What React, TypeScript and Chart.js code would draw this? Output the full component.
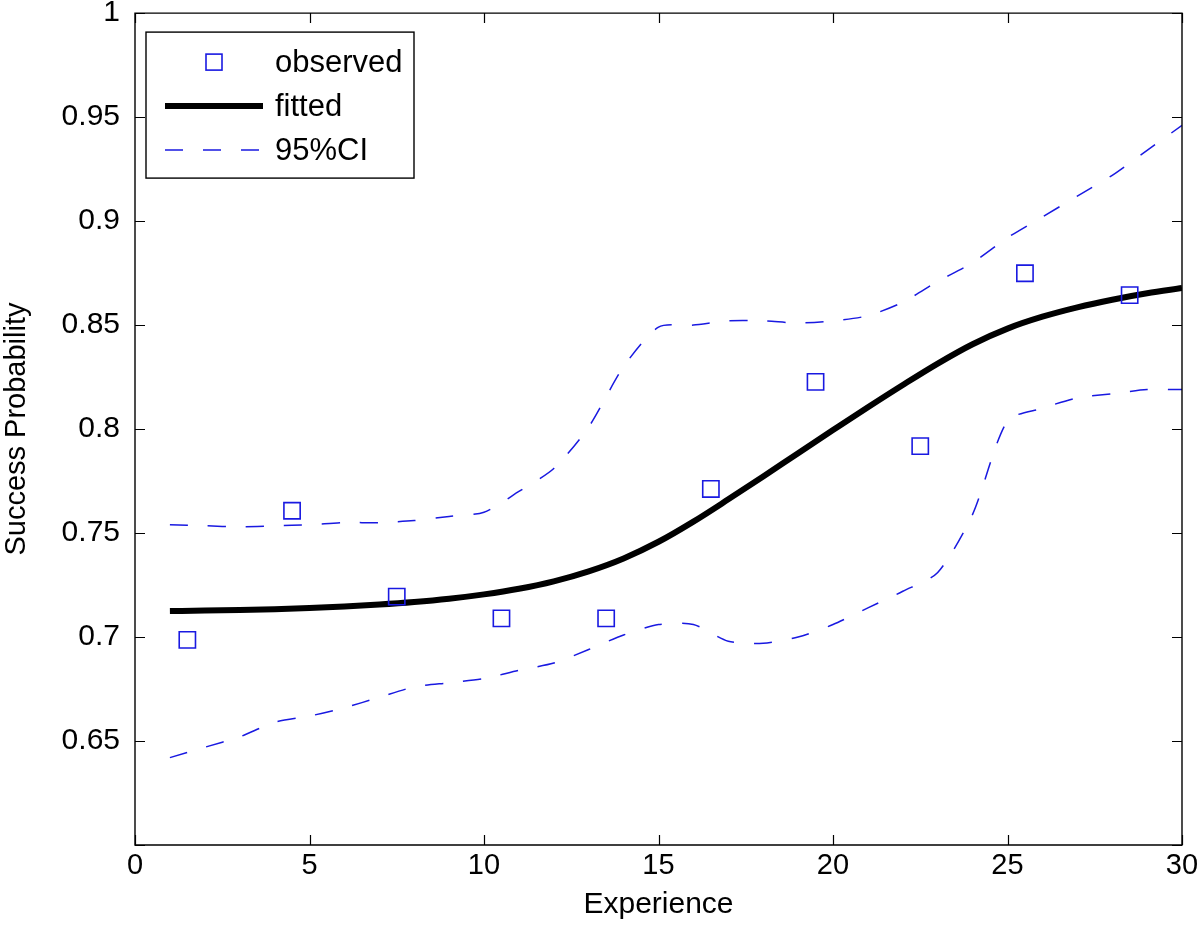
import React, { useEffect, useRef } from 'react';
import { Chart, registerables } from 'chart.js';

Chart.register(...registerables);

// ---- data ----
const experience = [1, 2, 3, 4, 5, 6, 7, 8, 9, 10, 11, 12, 13, 14, 15, 16, 17, 18, 19, 20, 21, 22, 23, 24, 25, 26, 27, 28, 29, 30];
const fitted = [0.7125, 0.7127, 0.713, 0.7134, 0.714, 0.7147, 0.7156, 0.7168, 0.7184, 0.7205, 0.7232, 0.7268, 0.7316, 0.7378, 0.7458, 0.7555, 0.7662, 0.7772, 0.7884, 0.7995, 0.8105, 0.8212, 0.8315, 0.8408, 0.8483, 0.854, 0.8585, 0.8622, 0.8653, 0.8678];
const ciUpper = [0.754, 0.7535, 0.753, 0.7535, 0.754, 0.755, 0.755, 0.756, 0.758, 0.76, 0.77, 0.781, 0.801, 0.83, 0.849, 0.85, 0.852, 0.852, 0.851, 0.852, 0.8545, 0.861, 0.871, 0.88, 0.892, 0.902, 0.912, 0.922, 0.934, 0.946];
const ciLower = [0.642, 0.647, 0.652, 0.659, 0.662, 0.666, 0.671, 0.676, 0.678, 0.68, 0.684, 0.6875, 0.694, 0.701, 0.706, 0.706, 0.698, 0.697, 0.7, 0.706, 0.714, 0.722, 0.731, 0.759, 0.804, 0.81, 0.815, 0.817, 0.819, 0.819];
const observedX = [1.5, 4.5, 7.5, 10.5, 13.5, 16.5, 19.5, 22.5, 25.5, 28.5];
const observedY = [0.6986, 0.7607, 0.7194, 0.709, 0.709, 0.7712, 0.8227, 0.7918, 0.8749, 0.8644];
const xTickValues = [0, 5, 10, 15, 20, 25, 30];
const xTickLabels = ['0', '5', '10', '15', '20', '25', '30'];
const yTickValues = [0.6, 0.65, 0.7, 0.75, 0.8, 0.85, 0.9, 0.95, 1];
const yTickLabels = ['', '0.65', '0.7', '0.75', '0.8', '0.85', '0.9', '0.95', '1'];
const legendLabels = ['observed', 'fitted', '95%CI'];

const BLUE = 'rgb(25,25,225)';
const FONT = "'Liberation Sans', Arial, Helvetica, sans-serif";

const framePlugin = {
  id: 'matlabFrame',
  afterDatasetsDraw(chart: any) {
    const { ctx, chartArea } = chart;
    const { left, right, top, bottom } = chartArea;
    const xs = chart.scales.x;
    const ys = chart.scales.y;
    const tl = 10;
    ctx.save();
    ctx.strokeStyle = '#000';
    ctx.lineWidth = 1.4;
    ctx.beginPath();
    ctx.rect(left, top, right - left, bottom - top);
    ctx.stroke();
    ctx.lineWidth = 1.2;
    ctx.beginPath();
    xs.ticks.forEach((t: any) => {
      const px = Math.round(xs.getPixelForValue(t.value)) + 0.5;
      ctx.moveTo(px, bottom);
      ctx.lineTo(px, bottom - tl);
      ctx.moveTo(px, top);
      ctx.lineTo(px, top + tl);
    });
    ys.ticks.forEach((t: any) => {
      const py = Math.round(ys.getPixelForValue(t.value)) + 0.5;
      ctx.moveTo(left, py);
      ctx.lineTo(left + tl, py);
      ctx.moveTo(right, py);
      ctx.lineTo(right - tl, py);
    });
    ctx.stroke();
    ctx.restore();
  },
};

const legendPlugin = {
  id: 'matlabLegend',
  afterDraw(chart: any) {
    const { ctx, chartArea } = chart;
    const ds = chart.data.datasets;
    const bx = chartArea.left + 11;
    const by = chartArea.top + 19;
    const bw = 268;
    const bh = 146;
    ctx.save();
    ctx.fillStyle = '#fff';
    ctx.fillRect(bx, by, bw, bh);
    ctx.strokeStyle = '#000';
    ctx.lineWidth = 1.4;
    ctx.strokeRect(bx, by, bw, bh);
    const rows = [by + 30, by + 74, by + 118];
    const sx0 = bx + 19;
    const sx1 = bx + 117;
    const obs = ds[0];
    ctx.strokeStyle = obs.pointBorderColor;
    ctx.lineWidth = obs.pointBorderWidth;
    ctx.strokeRect((sx0 + sx1) / 2 - 8, rows[0] - 8, 16, 16);
    const fit = ds[1];
    ctx.strokeStyle = fit.borderColor;
    ctx.lineWidth = fit.borderWidth;
    ctx.beginPath();
    ctx.moveTo(sx0, rows[1]);
    ctx.lineTo(sx1, rows[1]);
    ctx.stroke();
    const ci = ds[2];
    ctx.strokeStyle = ci.borderColor;
    ctx.lineWidth = ci.borderWidth;
    ctx.setLineDash(ci.borderDash);
    ctx.beginPath();
    ctx.moveTo(sx0, rows[2]);
    ctx.lineTo(sx1, rows[2]);
    ctx.stroke();
    ctx.setLineDash([]);
    ctx.fillStyle = '#000';
    ctx.font = `31px ${FONT}`;
    ctx.textBaseline = 'middle';
    ctx.textAlign = 'left';
    legendLabels.forEach((l, i) => ctx.fillText(l, bx + 129, rows[i] + 1));
    ctx.restore();
  },
};

export default function App() {
  const ref = useRef<HTMLCanvasElement>(null);
  useEffect(() => {
    const canvas = ref.current;
    if (!canvas) return;
    const line = (ys: number[]) => experience.map((x, i) => ({ x, y: ys[i] }));
    const chart = new Chart(canvas, {
      type: 'scatter',
      data: {
        datasets: [
          {
            label: legendLabels[0],
            data: observedX.map((x, i) => ({ x, y: observedY[i] })),
            showLine: false,
            pointStyle: 'rect',
            pointRadius: 11.5,
            pointHoverRadius: 11.5,
            pointBackgroundColor: 'rgba(0,0,0,0)',
            pointBorderColor: BLUE,
            pointBorderWidth: 1.6,
            order: 0,
          },
          {
            label: legendLabels[1],
            data: line(fitted),
            showLine: true,
            borderColor: '#000',
            borderWidth: 6,
            pointRadius: 0,
            cubicInterpolationMode: 'monotone',
            order: 1,
          },
          {
            label: legendLabels[2],
            data: line(ciUpper),
            showLine: true,
            borderColor: BLUE,
            borderWidth: 1.5,
            borderDash: [18, 20],
            pointRadius: 0,
            tension: 0.25,
            order: 2,
          },
          {
            label: 'lower',
            data: line(ciLower),
            showLine: true,
            borderColor: BLUE,
            borderWidth: 1.5,
            borderDash: [18, 20],
            pointRadius: 0,
            tension: 0.25,
            order: 2,
          },
        ],
      },
      options: {
        animation: false,
        responsive: false,
        events: [],
        layout: { padding: { left: 0, right: 18, top: 13, bottom: 3 } },
        plugins: { legend: { display: false }, tooltip: { enabled: false } },
        scales: {
          x: {
            type: 'linear',
            min: 0,
            max: 30,
            grid: { display: false, drawTicks: false },
            border: { display: false },
            afterBuildTicks: (s: any) => {
              s.ticks = xTickValues.map((v) => ({ value: v }));
            },
            afterFit: (s: any) => {
              s.height = 79;
              s.paddingLeft = 0;
              s.paddingRight = 0;
            },
            ticks: {
              color: '#000',
              padding: 4,
              maxRotation: 0,
              autoSkip: false,
              font: { family: FONT, size: 29 },
              callback: (v: any) => xTickLabels[xTickValues.indexOf(v)] ?? '',
            },
            title: {
              display: true,
              text: 'Experience',
              color: '#000',
              font: { family: FONT, size: 30 },
              padding: { top: 0, bottom: 1 },
            },
          },
          y: {
            type: 'linear',
            min: 0.6,
            max: 1,
            grid: { display: false, drawTicks: false },
            border: { display: false },
            afterBuildTicks: (s: any) => {
              s.ticks = yTickValues.map((v) => ({ value: v }));
            },
            afterFit: (s: any) => {
              s.width = 135;
              s.paddingTop = 0;
              s.paddingBottom = 0;
            },
            ticks: {
              color: '#000',
              padding: 15,
              autoSkip: false,
              font: { family: FONT, size: 30 },
              callback: (v: any) => {
                const i = yTickValues.findIndex((t) => Math.abs(t - v) < 1e-9);
                return i >= 0 ? yTickLabels[i] : '';
              },
            },
            title: {
              display: true,
              text: 'Success Probability',
              color: '#000',
              font: { family: FONT, size: 29 },
              padding: { top: 0, bottom: 0 },
            },
          },
        },
      },
      plugins: [framePlugin, legendPlugin],
    } as any);
    return () => chart.destroy();
  }, []);
  return (
    <div style={{ position: 'absolute', left: 0, top: 0, width: 1200, height: 927, background: '#fff' }}>
      <canvas ref={ref} width={1200} height={927} style={{ display: 'block' }} />
    </div>
  );
}
